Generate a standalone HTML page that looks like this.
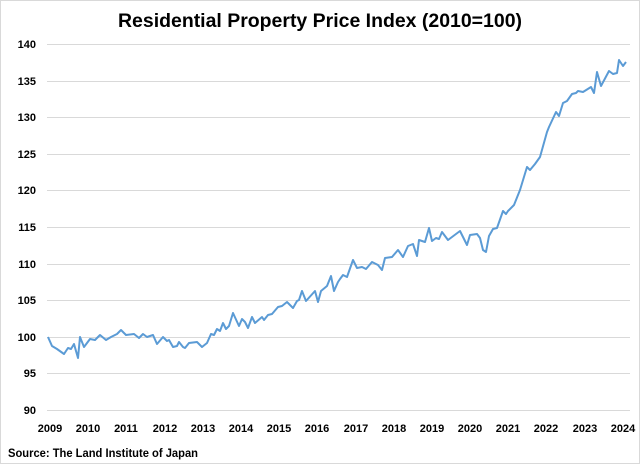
<!DOCTYPE html>
<html><head><meta charset="utf-8"><style>
body{margin:0;background:#fff;}
svg{display:block;font-family:"Liberation Sans",sans-serif;}
</style></head><body>
<svg width="640" height="464" viewBox="0 0 640 464">
<rect x="0.5" y="0.5" width="639" height="463" fill="#fff" stroke="#d9d9d9"/>
<text x="118" y="27" textLength="404" lengthAdjust="spacingAndGlyphs" font-size="19" font-weight="bold" fill="#000">Residential Property Price Index (2010=100)</text>
<g stroke="#d9d9d9" stroke-width="1">
<line x1="47" x2="630" y1="44.5" y2="44.5"/><line x1="47" x2="630" y1="81.5" y2="81.5"/>
<line x1="47" x2="630" y1="117.5" y2="117.5"/><line x1="47" x2="630" y1="154.5" y2="154.5"/>
<line x1="47" x2="630" y1="190.5" y2="190.5"/><line x1="47" x2="630" y1="227.5" y2="227.5"/>
<line x1="47" x2="630" y1="264.5" y2="264.5"/><line x1="47" x2="630" y1="300.5" y2="300.5"/>
<line x1="47" x2="630" y1="337.5" y2="337.5"/><line x1="47" x2="630" y1="373.5" y2="373.5"/>
<line x1="47" x2="630" y1="410.5" y2="410.5"/>
</g>
<g font-size="11" font-weight="bold" fill="#000" text-anchor="end">
<text x="36" y="48">140</text><text x="36" y="85">135</text><text x="36" y="121">130</text>
<text x="36" y="158">125</text><text x="36" y="194">120</text><text x="36" y="231">115</text>
<text x="36" y="268">110</text><text x="36" y="304">105</text><text x="36" y="341">100</text>
<text x="36" y="377">95</text><text x="36" y="414">90</text>
</g>
<g font-size="11" font-weight="bold" fill="#000" text-anchor="middle">
<text x="50" y="432">2009</text><text x="88" y="432">2010</text><text x="126" y="432">2011</text>
<text x="165" y="432">2012</text><text x="203" y="432">2013</text><text x="241" y="432">2014</text>
<text x="279" y="432">2015</text><text x="317" y="432">2016</text><text x="356" y="432">2017</text>
<text x="394" y="432">2018</text><text x="432" y="432">2019</text><text x="470" y="432">2020</text>
<text x="508" y="432">2021</text><text x="546" y="432">2022</text><text x="585" y="432">2023</text>
<text x="623" y="432">2024</text>
</g>
<polyline fill="none" stroke="#5b9bd5" stroke-width="2" stroke-linejoin="round" points="48,337 52,346 57,349 64,354 68,348 71,349 74,344 78,358 80,337 84,347 90,339 95,340 100,335 106,340 111,337 117,334 121,330 126,335 134,334 139,338 143,334 147,337 153,335 157,344 163,337 167,341 169,340 173,347 177,346 179,342 183,347 185,348 189,343 197,342 202,347 207,343 211,334 214,335 217,329 220,331 223,323 226,329 229,326 233,313 239,326 242,319 245,322 248,328 252,317 255,323 262,317 264,320 268,315 272,314 278,307 282,306 287,302 293,308 297,301 299,300 302,291 306,301 315,291 318,302 321,291 327,286 331,276 334,291 338,282 340,279 343,275 347,277 353,260 357,268 362,267 366,269 372,262 378,265 382,270 385,258 392,257 398,250 403,257 408,246 413,244 417,256 419,240 425,242 429,228 432,241 436,238 439,239 442,232 448,240 460,231 467,245 470,235 477,234 480,238 483,250 486,252 489,236 493,229 497,228 503,211 506,214 508,211 514,205 520,190 527,167 530,170 535,164 540,157 547,132 549,127 556,112 559,116 563,103 567,101 572,94 576,93 578,91 583,92 591,87 594,93 597,72 601,86 609,71 613,74 617,73 619,60 623,66 626,62"/>
<text x="8" y="457" textLength="190" lengthAdjust="spacingAndGlyphs" font-size="12" font-weight="bold" fill="#000">Source: The Land Institute of Japan</text>
</svg>
</body></html>
